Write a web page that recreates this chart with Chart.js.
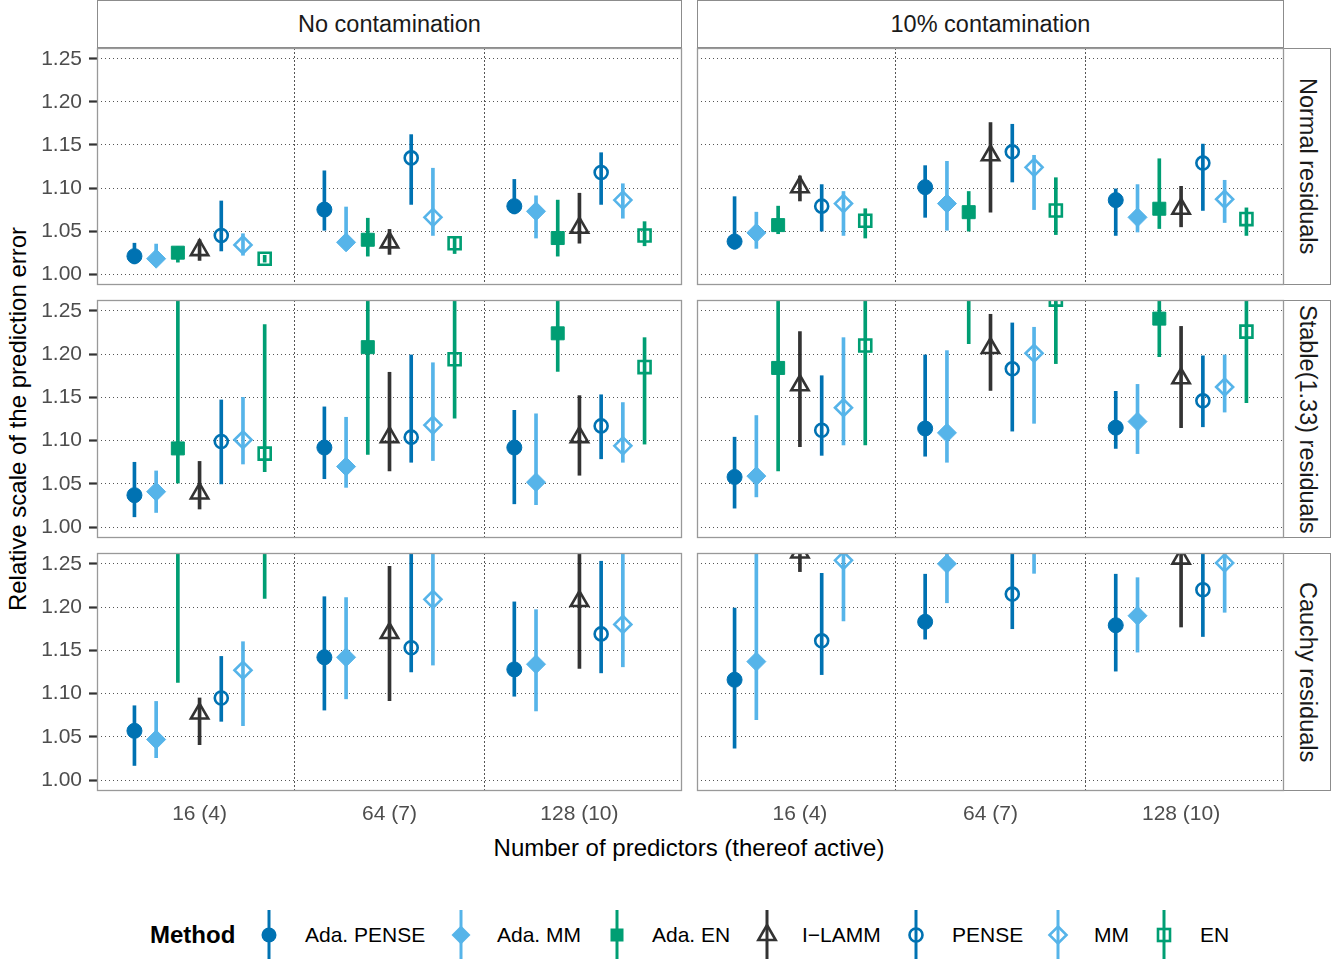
<!DOCTYPE html>
<html>
<head>
<meta charset="utf-8">
<script src="https://cdn.jsdelivr.net/npm/chart.js@4.4.1/dist/chart.umd.min.js"></script>
<style>
body{margin:0;width:1342px;height:959px;position:relative;background:#fff;overflow:hidden;font-family:"Liberation Sans",Arial,sans-serif}
canvas{position:absolute}
.strip{position:absolute;box-sizing:border-box;border:1px solid #8c8c8c;background:#fff;display:flex;align-items:center;justify-content:center;font-size:23.5px;color:#1a1a1a;white-space:nowrap}
.vstrip{writing-mode:vertical-rl}
.title{position:absolute;font-size:24px;color:#000;white-space:nowrap;transform:translate(-50%,-50%)}
.lg{position:absolute;font-size:21px;color:#000;white-space:nowrap;top:935px;transform:translateY(-50%)}
svg{position:absolute}
</style>
</head>
<body>
<div class="strip" style="left:97px;top:0px;width:585px;height:48px">No contamination</div>
<div class="strip" style="left:697px;top:0px;width:587px;height:48px">10% contamination</div>
<div class="strip vstrip" style="left:1283px;top:48px;width:48px;height:237px">Normal residuals</div>
<div class="strip vstrip" style="left:1283px;top:300px;width:48px;height:238px">Stable(1.33) residuals</div>
<div class="strip vstrip" style="left:1283px;top:553px;width:48px;height:238px">Cauchy residuals</div>
<div class="title" style="left:18px;top:419px;transform:translate(-50%,-50%) rotate(-90deg)">Relative scale of the prediction error</div>
<div class="title" style="left:689px;top:848px">Number of predictors (thereof active)</div>
<div id="legend"></div>
<script>
const categories = ["16 (4)", "64 (7)", "128 (10)"];
const methods = ["Ada. PENSE", "Ada. MM", "Ada. EN", "I\u2212LAMM", "PENSE", "MM", "EN"];
const yTicks = [1.00, 1.05, 1.10, 1.15, 1.20, 1.25];

// rows: methods, columns: categories
const normalClean_est = [[1.021,1.075,1.079],[1.018,1.037,1.073],[1.025,1.040,1.042],[1.028,1.037,1.054],[1.045,1.135,1.118],[1.034,1.066,1.086],[1.018,1.036,1.045]];
const normalClean_lo  = [[1.012,1.051,1.070],[1.010,1.030,1.042],[1.014,1.021,1.021],[1.016,1.023,1.036],[1.027,1.081,1.081],[1.022,1.045,1.065],[1.014,1.024,1.033]];
const normalClean_hi  = [[1.036,1.120,1.110],[1.035,1.078,1.091],[1.032,1.065,1.086],[1.040,1.052,1.094],[1.085,1.162,1.141],[1.047,1.123,1.105],[1.022,1.043,1.061]];

const normalCont_est = [[1.038,1.101,1.086],[1.048,1.082,1.066],[1.057,1.072,1.076],[1.101,1.138,1.076],[1.079,1.142,1.129],[1.082,1.124,1.087],[1.062,1.074,1.064]];
const normalCont_lo  = [[1.029,1.066,1.045],[1.030,1.051,1.049],[1.047,1.050,1.053],[1.085,1.072,1.055],[1.050,1.107,1.074],[1.045,1.075,1.060],[1.042,1.046,1.045]];
const normalCont_hi  = [[1.090,1.126,1.099],[1.072,1.131,1.104],[1.079,1.096,1.134],[1.114,1.176,1.102],[1.104,1.174,1.151],[1.096,1.138,1.109],[1.076,1.112,1.077]];

const stableClean_est = [[1.037,1.092,1.092],[1.041,1.070,1.052],[1.091,1.208,1.224],[1.039,1.104,1.104],[1.099,1.104,1.117],[1.101,1.118,1.094],[1.085,1.194,1.185]];
const stableClean_lo  = [[1.012,1.056,1.027],[1.017,1.046,1.026],[1.051,1.084,1.180],[1.021,1.065,1.060],[1.050,1.075,1.079],[1.073,1.077,1.075],[1.064,1.126,1.096]];
const stableClean_hi  = [[1.075,1.139,1.135],[1.065,1.127,1.131],[1.320,1.330,1.280],[1.076,1.179,1.152],[1.147,1.199,1.153],[1.150,1.190,1.144],[1.234,1.300,1.219]];

const stableCont_est = [[1.058,1.114,1.115],[1.059,1.109,1.122],[1.184,1.300,1.241],[1.164,1.207,1.172],[1.112,1.183,1.146],[1.138,1.201,1.162],[1.210,1.263,1.226]];
const stableCont_lo  = [[1.022,1.082,1.091],[1.035,1.075,1.085],[1.065,1.212,1.197],[1.093,1.158,1.115],[1.083,1.111,1.116],[1.095,1.120,1.133],[1.095,1.189,1.144]];
const stableCont_hi  = [[1.104,1.199,1.157],[1.129,1.204,1.165],[1.350,1.400,1.300],[1.226,1.246,1.232],[1.175,1.236,1.198],[1.219,1.231,1.199],[1.330,1.350,1.310]];

const cauchyClean_est = [[1.057,1.142,1.128],[1.047,1.142,1.134],[1.450,null,null],[1.077,1.170,1.207],[1.095,1.153,1.169],[1.127,1.209,1.180],[1.350,null,null]];
const cauchyClean_lo  = [[1.017,1.081,1.097],[1.026,1.094,1.080],[1.113,null,null],[1.041,1.092,1.129],[1.068,1.125,1.124],[1.063,1.133,1.131],[1.210,null,null]];
const cauchyClean_hi  = [[1.086,1.212,1.206],[1.091,1.211,1.197],[1.800,null,null],[1.095,1.247,1.290],[1.143,1.300,1.253],[1.160,1.300,1.290],[1.600,null,null]];

const cauchyCont_est = [[1.116,1.183,1.179],[1.137,1.250,1.190],[null,null,null],[1.263,null,1.256],[1.161,1.215,1.220],[1.254,1.290,1.251],[null,null,null]];
const cauchyCont_lo  = [[1.037,1.163,1.126],[1.070,1.205,1.148],[null,null,null],[1.241,null,1.177],[1.122,1.175,1.166],[1.184,1.239,1.194],[null,null,null]];
const cauchyCont_hi  = [[1.199,1.238,1.238],[1.330,1.300,1.234],[null,null,null],[1.300,null,1.320],[1.239,1.300,1.300],[1.330,1.350,1.320],[null,null,null]];

const colors = ["#0072B2", "#56B4E9", "#009E73", "#333333", "#0072B2", "#56B4E9", "#009E73"];
const shapes = ["circle", "rectRot", "rect", "triangle", "circle", "rectRot", "rect"];
const filled = [true, true, true, false, false, false, false];
const radius = [7.5, 9.5, 9.2, 10, 6.5, 8.5, 8.5];

const colX = [[97, 682], [697, 1284]];
const rowY = [[48, 285], [300, 538], [553, 791]];

const panels = [
    {row: 0, col: 0, est: normalClean_est, lo: normalClean_lo, hi: normalClean_hi},
    {row: 0, col: 1, est: normalCont_est, lo: normalCont_lo, hi: normalCont_hi},
    {row: 1, col: 0, est: stableClean_est, lo: stableClean_lo, hi: stableClean_hi},
    {row: 1, col: 1, est: stableCont_est, lo: stableCont_lo, hi: stableCont_hi},
    {row: 2, col: 0, est: cauchyClean_est, lo: cauchyClean_lo, hi: cauchyClean_hi},
    {row: 2, col: 1, est: cauchyCont_est, lo: cauchyCont_lo, hi: cauchyCont_hi},
];

// panel border drawn on top of data
const frame = {
    id: "frame",
    afterDatasetsDraw(chart) {
        const a = chart.chartArea, c = chart.ctx;
        c.save();
        c.setLineDash([]);
        c.strokeStyle = "#999999";
        c.lineWidth = 1.3;
        c.strokeRect(a.left + 0.5, a.top + 0.5, a.right - a.left - 1, a.bottom - a.top - 1);
        c.restore();
    },
};

const font = {family: "'Liberation Sans', Arial, sans-serif", size: 21};

function makePanel(p) {
    const [x0, x1] = colX[p.col];
    const [y0, y1] = rowY[p.row];
    const left = p.col === 0 ? 0 : x0 - 2;
    const top = y0 - 2;
    const right = x1 + 2;
    const bottom = p.row === 2 ? 834 : y1 + 2;
    const isLeft = p.col === 0, isBottom = p.row === 2;

    const cv = document.createElement("canvas");
    cv.width = right - left;
    cv.height = bottom - top;
    cv.style.left = left + "px";
    cv.style.top = top + "px";
    document.body.appendChild(cv);

    const datasets = [];
    methods.forEach((m, i) => {
        const off = (i - 3) * 0.8 / 7;
        const bars = [], pts = [];
        for (let c = 0; c < categories.length; c++) {
            if (p.lo[i][c] != null) bars.push({x: c + 1 + off, y: [p.lo[i][c], p.hi[i][c]]});
            if (p.est[i][c] != null) pts.push({x: c + 1 + off, y: p.est[i][c]});
        }
        datasets.push({
            type: "bar",
            label: m,
            data: bars,
            backgroundColor: colors[i],
            barThickness: 3,
            grouped: false,
            order: 1,
            clip: 0,
        });
        datasets.push({
            type: "scatter",
            label: m,
            data: pts,
            pointStyle: shapes[i],
            pointRadius: radius[i],
            backgroundColor: filled[i] ? colors[i] : "rgba(0,0,0,0)",
            borderColor: colors[i],
            borderWidth: filled[i] ? 1 : 2.6,
            order: 0,
            clip: 0,
        });
    });

    new Chart(cv, {
        type: "scatter",
        data: {datasets},
        plugins: [frame],
        options: {
            responsive: false,
            animation: false,
            events: [],
            layout: {autoPadding: false, padding: {top: 2, right: 2, left: isLeft ? 0 : 2, bottom: isBottom ? 0 : 2}},
            plugins: {legend: {display: false}, tooltip: {enabled: false}},
            scales: {
                x: {
                    type: "linear",
                    min: 0.46,
                    max: 3.54,
                    offset: false,
                    afterBuildTicks: (s) => { s.ticks = [1, 1.5, 2, 2.5, 3].map((v) => ({value: v})); },
                    afterFit: (s) => {
                        s.height = isBottom ? bottom - y1 : 0;
                        s.paddingLeft = 0;
                        s.paddingRight = 0;
                    },
                    ticks: {
                        display: isBottom,
                        autoSkip: false,
                        maxRotation: 0,
                        callback: (v) => (Number.isInteger(v) ? categories[v - 1] : ""),
                        color: "#4d4d4d",
                        font: font,
                        padding: 11,
                    },
                    grid: {
                        offset: false,
                        color: (c) => (c.tick && Number.isInteger(c.tick.value) ? "rgba(0,0,0,0)" : "#555555"),
                        drawTicks: false,
                    },
                    border: {display: false, dash: [2, 2]},
                },
                y: {
                    min: 0.9875,
                    max: 1.2625,
                    afterBuildTicks: (s) => { s.ticks = yTicks.map((v) => ({value: v})); },
                    afterFit: (s) => {
                        s.width = isLeft ? x0 : 0;
                        s.paddingTop = 0;
                        s.paddingBottom = 0;
                    },
                    ticks: {
                        display: isLeft,
                        callback: (v) => v.toFixed(2),
                        color: "#4d4d4d",
                        font: font,
                        padding: 7,
                    },
                    grid: {
                        color: "#555555",
                        drawTicks: isLeft,
                        tickLength: 8,
                        tickWidth: 2.2,
                        tickColor: "#333333",
                    },
                    border: {display: false, dash: [1, 3]},
                },
            },
        },
    });
}

panels.forEach(makePanel);

// legend
const legendX = [269, 461, 617, 767, 916, 1058, 1164];
const legendTextX = [305, 497, 652, 802, 952, 1094, 1200];
const lg = document.getElementById("legend");
let html = '<div class="lg" style="left:150px;font-size:24px;font-weight:bold">Method</div>';
methods.forEach((m, i) => {
    const col = colors[i];
    const fill = filled[i] ? col : "none";
    const sw = filled[i] ? 0 : 2.6;
    let shape = "";
    if (shapes[i] === "circle") shape = `<circle cx="15" cy="30" r="${filled[i] ? 7.5 : 6.5}" fill="${fill}" stroke="${col}" stroke-width="${sw}"/>`;
    if (shapes[i] === "rectRot") { const r = filled[i] ? 9.5 : 8.5; shape = `<polygon points="15,${30 - r} ${15 + r},30 15,${30 + r} ${15 - r},30" fill="${fill}" stroke="${col}" stroke-width="${sw}"/>`; }
    if (shapes[i] === "rect") { const h = filled[i] ? 6.5 : 6; shape = `<rect x="${15 - h}" y="${30 - h}" width="${2 * h}" height="${2 * h}" fill="${fill}" stroke="${col}" stroke-width="${sw}"/>`; }
    if (shapes[i] === "triangle") { const r = 10; shape = `<polygon points="15,${30 - r} ${15 + r * 0.866},${30 + r / 2} ${15 - r * 0.866},${30 + r / 2}" fill="none" stroke="${col}" stroke-width="2.6"/>`; }
    html += `<svg width="30" height="54" style="left:${legendX[i] - 15}px;top:905px"><line x1="15" y1="5" x2="15" y2="54" stroke="${col}" stroke-width="3"/>${shape}</svg>`;
    html += `<div class="lg" style="left:${legendTextX[i]}px">${m}</div>`;
});
lg.innerHTML = html;
</script>
</body>
</html>
